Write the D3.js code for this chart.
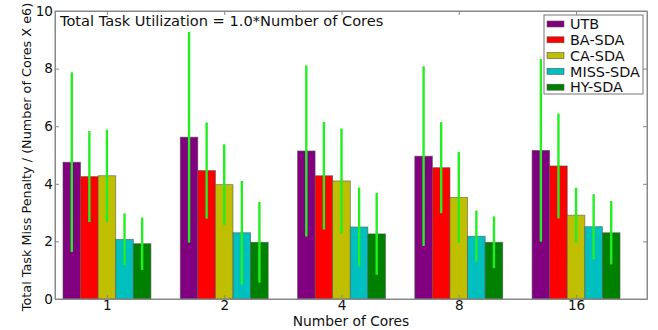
<!DOCTYPE html>
<html>
<head>
<meta charset="utf-8">
<script src="https://cdn.jsdelivr.net/npm/d3@7"></script>
<style>
  body { margin: 0; background: #fff; }
  text { font-family: "DejaVu Sans", sans-serif; fill: #111; }
</style>
</head>
<body>
<div id="chart"></div>
<script>
// data
var cores = ["1", "2", "4", "8", "16"];
var seriesNames = ["UTB", "BA-SDA", "CA-SDA", "MISS-SDA", "HY-SDA"];
var utb = [4.75, 5.62, 5.14, 4.96, 5.16];
var baSda = [4.25, 4.46, 4.28, 4.56, 4.62];
var caSda = [4.28, 3.97, 4.10, 3.53, 2.91];
var missSda = [2.07, 2.30, 2.50, 2.18, 2.51];
var hySda = [1.92, 1.97, 2.26, 1.97, 2.30];
var utbErr = [3.12, 3.66, 2.97, 3.12, 3.17];
var baErr = [1.58, 1.67, 1.87, 1.58, 1.82];
var caErr = [1.60, 1.40, 1.82, 1.58, 0.95];
var missErr = [0.90, 1.80, 1.37, 0.89, 1.13];
var hyErr = [0.91, 1.40, 1.42, 0.90, 1.10];
var yTicks = [0, 2, 4, 6, 8, 10];

var means = [utb, baSda, caSda, missSda, hySda];
var errs = [utbErr, baErr, caErr, missErr, hyErr];
var colors = ["#800080", "#ff0000", "#bfbf00", "#00bfbf", "#008000"];

var svgWidth = 658;
var svgHeight = 330;
var barW = 0.15;

var svg = d3.select("#chart")
  .append("svg")
  .attr("width", svgWidth)
  .attr("height", svgHeight);

var x = d3.scaleLinear().domain([-0.068, 4.98]).range([55, 647]);
var y = d3.scaleLinear().domain([0, 10]).range([299, 11]);

// flatten into rows for drawing
var rows = [];
means.forEach((m, s) => {
  m.forEach((v, i) => {
    rows.push({ s: s, i: i, v: v, e: errs[s][i] });
  });
});

svg.selectAll("rect.bar")
  .data(rows)
  .enter()
  .append("rect")
  .attr("class", "bar")
  .attr("x", d => x(d.i + d.s * barW))
  .attr("width", x(barW) - x(0))
  .attr("y", d => y(d.v))
  .attr("height", d => y(0) - y(d.v))
  .attr("fill", d => colors[d.s])
  .attr("stroke", "#555")
  .attr("stroke-opacity", 0.7)
  .attr("stroke-width", 0.8);

svg.selectAll("line.err")
  .data(rows)
  .enter()
  .append("line")
  .attr("class", "err")
  .attr("x1", d => x(d.i + d.s * barW + barW / 2))
  .attr("x2", d => x(d.i + d.s * barW + barW / 2))
  .attr("y1", d => y(d.v + d.e))
  .attr("y2", d => y(d.v - d.e))
  .attr("stroke", "#22ee22")
  .attr("stroke-width", 2.4);

// axes with inward ticks on all four sides
var tickPos = cores.map((c, i) => i + 2.5 * barW);
var xAxis = d3.axisBottom(x).tickValues(tickPos).tickFormat((d, i) => cores[i]).tickSizeInner(-4).tickSizeOuter(0).tickPadding(1);
var xTop = d3.axisTop(x).tickValues(tickPos).tickFormat("").tickSizeInner(-4).tickSizeOuter(0);
var yAxis = d3.axisLeft(y).tickValues(yTicks).tickSizeInner(-4).tickSizeOuter(0).tickPadding(2);
var yRight = d3.axisRight(y).tickValues(yTicks).tickFormat("").tickSizeInner(-4).tickSizeOuter(0);

function styleAxis(g) {
  g.select(".domain").attr("stroke", "#888");
  g.selectAll(".tick line").attr("stroke", "#888");
  g.selectAll("text").style("font-size", "13.6px").attr("fill", "#111");
}

svg.append("g").attr("transform", `translate(0, ${y(0)})`).call(xAxis).call(styleAxis);
svg.append("g").attr("transform", `translate(0, ${y(10)})`).call(xTop).call(styleAxis);
svg.append("g").attr("transform", `translate(${x.range()[0]}, 0)`).call(yAxis).call(styleAxis);
svg.append("g").attr("transform", `translate(${x.range()[1]}, 0)`).call(yRight).call(styleAxis);

// frame lines
svg.append("rect")
  .attr("x", 55).attr("y", 11)
  .attr("width", 592).attr("height", 288)
  .attr("fill", "none")
  .attr("stroke", "#888");

// labels
svg.append("text")
  .attr("x", 60)
  .attr("y", 26)
  .style("font-size", "14.6px")
  .text("Total Task Utilization = 1.0*Number of Cores");

svg.append("text")
  .attr("x", (55 + 647) / 2)
  .attr("y", 326)
  .attr("text-anchor", "middle")
  .style("font-size", "13.8px")
  .text("Number of Cores");

svg.append("text")
  .attr("transform", "translate(31, 157) rotate(-90)")
  .attr("text-anchor", "middle")
  .style("font-size", "12.8px")
  .text("Total Task Miss Penalty / (Number of Cores X e6)");

// legend
var legend = svg.append("g").attr("transform", "translate(544, 15)");
legend.append("rect")
  .attr("width", 99).attr("height", 79)
  .attr("fill", "#fff")
  .attr("stroke", "#777");
var items = legend.selectAll("g.item")
  .data(seriesNames)
  .enter()
  .append("g")
  .attr("class", "item")
  .attr("transform", (d, i) => `translate(0, ${9 + i * 15.8})`);
items.append("rect")
  .attr("x", 3).attr("y", -3)
  .attr("width", 17).attr("height", 6)
  .attr("fill", (d, i) => colors[i])
  .attr("stroke", "#555")
  .attr("stroke-width", 0.6);
items.append("text")
  .attr("x", 26)
  .attr("dy", "0.36em")
  .style("font-size", "14.4px")
  .text(d => d);
</script>
</body>
</html>
